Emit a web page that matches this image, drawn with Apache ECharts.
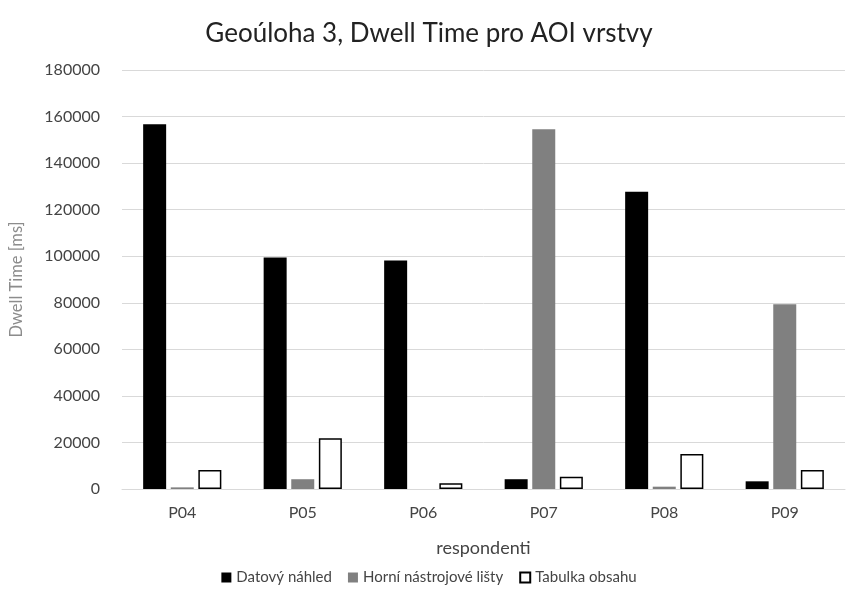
<!DOCTYPE html>
<html>
<head>
<meta charset="utf-8">
<script src="https://cdn.jsdelivr.net/npm/echarts@6/dist/echarts.min.js"></script>
<style>
html, body { margin: 0; padding: 0; background: #fff; }
#chart { width: 858px; height: 611px; }
</style>
</head>
<body>
<div id="chart"></div>
<script>
// data
const respondenti = ['P04', 'P05', 'P06', 'P07', 'P08', 'P09']
const datovyNahled = [156700, 99400, 98200, 4200, 127700, 3300]
const horniListy = [700, 4200, 0, 154600, 1000, 79400]
const tabulkaObsahu = [8200, 21800, 2500, 5300, 15000, 8200]
const seriesNames = ['Datový náhled', 'Horní nástrojové lišty', 'Tabulka obsahu']

const font = 'Lato, "Open Sans", sans-serif'
const myChart = echarts.init(document.getElementById('chart'))

const option = {
  animation: false,
  textStyle: { fontFamily: font },
  title: {
    text: 'Geoúloha 3, Dwell Time pro AOI vrstvy',
    left: 'center',
    top: 16,
    textStyle: { fontFamily: font, fontSize: 26, fontWeight: 'normal', color: '#222' }
  },
  legend: {
    data: seriesNames,
    bottom: 21,
    itemWidth: 10,
    itemHeight: 10,
    itemGap: 16,
    itemTextGap: 3,
    icon: 'rect',
    textStyle: { fontFamily: font, fontSize: 15, color: '#444' }
  },
  grid: {
    top: 70,
    left: 118,
    right: 13,
    bottom: 122
  },
  xAxis: {
    type: 'category',
    data: respondenti,
    name: 'respondenti',
    nameLocation: 'middle',
    nameGap: 50,
    nameTextStyle: { fontFamily: font, fontSize: 18, color: '#444' },
    axisLine: { lineStyle: { color: '#d9d9d9' } },
    axisTick: { show: false },
    axisLabel: { fontFamily: font, fontSize: 16, color: '#444', margin: 16 }
  },
  yAxis: {
    type: 'value',
    min: 0,
    max: 180000,
    interval: 20000,
    name: 'Dwell Time [ms]',
    nameLocation: 'middle',
    nameGap: 97,
    nameTextStyle: { fontFamily: font, fontSize: 16.5, color: '#8c8c8c' },
    axisLine: { show: false },
    axisTick: { show: false },
    axisLabel: {
      fontFamily: font,
      fontSize: 16,
      color: '#444',
      margin: 22,
      formatter: v => String(v)
    },
    splitLine: { lineStyle: { color: '#d9d9d9' } }
  },
  series: [
    {
      name: seriesNames[0],
      type: 'bar',
      data: datovyNahled,
      barWidth: 23,
      barGap: '20%',
      itemStyle: { color: '#000000' }
    },
    {
      name: seriesNames[1],
      type: 'bar',
      data: horniListy,
      barWidth: 23,
      barGap: '20%',
      itemStyle: { color: '#808080' }
    },
    {
      name: seriesNames[2],
      type: 'bar',
      data: tabulkaObsahu,
      barWidth: 23,
      barGap: '20%',
      itemStyle: { color: '#ffffff', borderColor: '#000000', borderWidth: 1.5 }
    }
  ]
}
myChart.setOption(option)
</script>
</body>
</html>
